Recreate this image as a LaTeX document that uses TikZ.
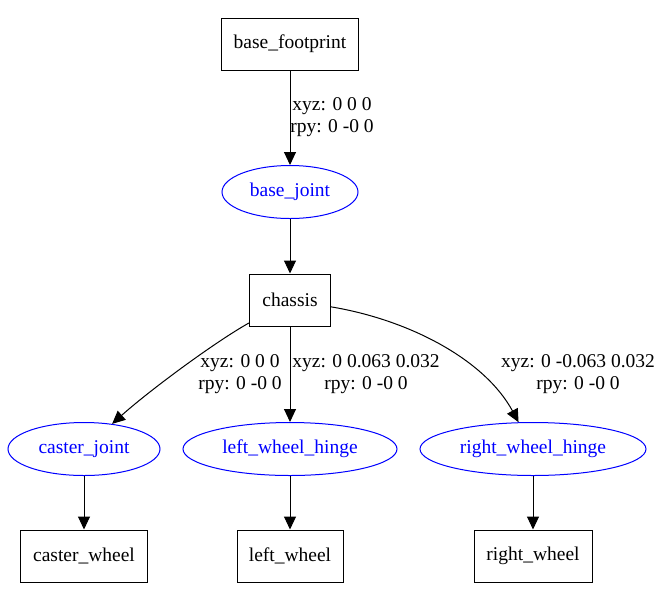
\documentclass[tikz,border=0pt]{standalone}
\usepackage{fontspec}
\setmainfont{Liberation Serif}
\usetikzlibrary{arrows.meta,shapes.geometric}
\begin{document}
\begin{tikzpicture}[x=1pt,y=-1pt,
  every node/.style={font=\fontsize{19.5}{22}\selectfont},
  link/.style={draw,line width=1pt,rectangle,minimum height=52pt,inner sep=0pt},
  joint/.style={draw=blue,text=blue,line width=1pt,ellipse,minimum height=53pt,inner sep=0pt},
  lbl/.style={align=center,inner sep=0pt},
  edge/.style={line width=1pt,-{Triangle[length=13pt,width=12pt]}}]
\useasboundingbox (0,0) rectangle (661,590);
\node[link,minimum width=137pt] (bf) at (290,44) {base\_footprint};
\node[joint,minimum width=136pt] (bj) at (290,192) {base\_joint};
\node[link,minimum width=81pt] (ch) at (290,300) {chassis};
\node[joint,minimum width=152pt] (cj) at (84,449) {caster\_joint};
\node[joint,minimum width=214pt] (lj) at (290,449) {left\_wheel\_hinge};
\node[joint,minimum width=226pt] (rj) at (533,449) {right\_wheel\_hinge};
\node[link,minimum width=127pt] (cw) at (84,556) {caster\_wheel};
\node[link,minimum width=106pt] (lw) at (290,556) {left\_wheel};
\node[link,minimum width=118pt] (rw) at (533,556) {right\_wheel};
\node[lbl] (l1) at (332,117) {xyz: 0 0 0\\rpy: 0 -0 0};
\node[lbl] (l2) at (240,374) {xyz: 0 0 0\\rpy: 0 -0 0};
\node[lbl] (l3) at (366,374) {xyz: 0 0.063 0.032\\rpy: 0 -0 0};
\node[lbl] (l4) at (578,374) {xyz: 0 -0.063 0.032\\rpy: 0 -0 0};
\coordinate (c1) at (215,342);
\coordinate (c2) at (150,390);
\coordinate (c3) at (410,320);
\coordinate (c4) at (485,360);
\draw[edge] (bf) -- (bj);
\draw[edge] (bj) -- (ch);
\draw[edge] (ch) .. controls (c1) and (c2) .. (cj);
\draw[edge] (ch) -- (lj);
\draw[edge] (ch) .. controls (c3) and (c4) .. (rj);
\draw[edge] (cj) -- (cw);
\draw[edge] (lj) -- (lw);
\draw[edge] (rj) -- (rw);
\end{tikzpicture}
\end{document}
